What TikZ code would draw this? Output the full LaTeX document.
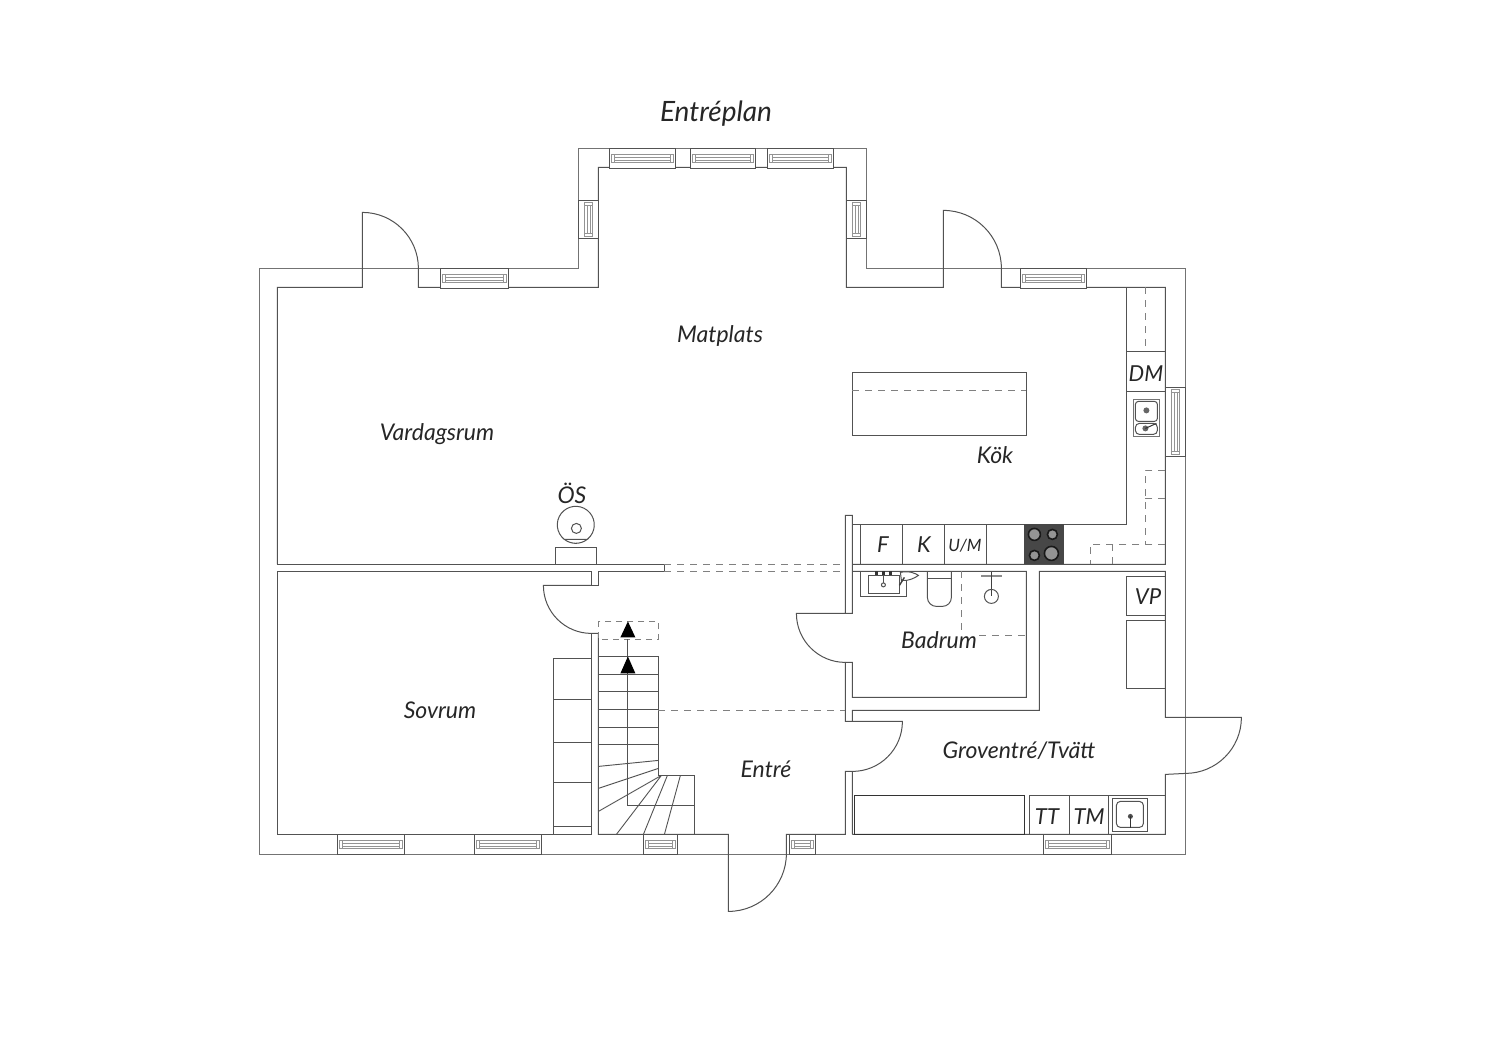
\documentclass[tikz,border=0pt]{standalone}
\usepackage{fontspec}
\setmainfont{Lato}
\newcommand{\winH}[3]{%
  \draw[wall, fill=white] (#1,#3) rectangle (#2,#3+20);
  \draw[thinl] (#1+2,#3+6) rectangle (#2-2,#3+14);
  \draw[thinl] (#1+5,#3+8.5) -- (#2-5,#3+8.5) (#1+5,#3+11.5) -- (#2-5,#3+11.5)
    (#1+5,#3+6) -- (#1+5,#3+14) (#2-5,#3+6) -- (#2-5,#3+14);}
\newcommand{\winV}[3]{%
  \draw[wall, fill=white] (#1,#2) rectangle (#1+20,#3);
  \draw[thinl] (#1+6,#2+2) rectangle (#1+14,#3-2);
  \draw[thinl] (#1+8.5,#2+5) -- (#1+8.5,#3-5) (#1+11.5,#2+5) -- (#1+11.5,#3-5)
    (#1+6,#2+5) -- (#1+14,#2+5) (#1+6,#3-5) -- (#1+14,#3-5);}
\begin{document}
\begin{tikzpicture}[x=1pt, y=-1pt,
  wall/.style={draw=black!68, line width=1pt},
  outerwall/.style={draw=black!55, line width=1pt},
  thinl/.style={draw=black!42, line width=.6pt},
  dashl/.style={draw=black!50, line width=1pt, dash pattern=on 7pt off 6pt},
  room/.style={font=\itshape\fontsize{23}{23}\selectfont, text=black!85, inner sep=0pt},
  unit/.style={font=\itshape\fontsize{22}{22}\selectfont, text=black!85, inner sep=0pt}
]
\useasboundingbox (0,0) rectangle (1500,1060);
\begin{scope}[shift={(-0.6,-0.6)}]
% outer wall
\draw[outerwall] (260,269) -- (579,269) -- (579,149) -- (867,149) -- (867,269)
  -- (1186,269) -- (1186,855) -- (260,855) -- cycle;
% inner wall, upper rooms
\draw[wall] (278,565) -- (278,288) -- (363,288) -- (363,213)
  arc[start angle=90, end angle=0, radius=56pt] -- (419,288) -- (599,288)
  -- (599,168) -- (847,168) -- (847,288) -- (944,288) -- (944,211)
  arc[start angle=90, end angle=0, radius=58pt] -- (1002,288) -- (1166,288)
  -- (1166,565) -- (853,565);
\draw[wall] (278,565) -- (665,565) -- (665,572) -- (599,572) -- (599,586) -- (592,586)
  -- (592,572) -- (278,572) -- (278,835) -- (592,835) -- (592,634);
\draw[wall] (592,586) -- (544,586) arc[start angle=180, end angle=270, radius=48pt] -- (599,634) -- (599,835)
  -- (729,835) -- (729,912) arc[start angle=270, end angle=360, radius=58pt] -- (787,835) -- (846,835)
  -- (846,772) -- (853,772) arc[start angle=270, end angle=360, radius=50pt] -- (846,722) -- (846,663)
  -- (853,663) -- (853,698) -- (1027,698) -- (1027,572) -- (853,572);
\draw[wall] (846,663) arc[start angle=270, end angle=180, radius=49pt] -- (853,614) -- (853,516) -- (846,516) -- (846,614);
\draw[wall] (853,835) -- (853,772) (853,722) -- (853,711) -- (1040,711) -- (1040,572) -- (1166,572) -- (1166,718)
  -- (1242,718) arc[start angle=0, end angle=-90, radius=56pt] -- (1166,775) -- (1166,835) -- (853,835);
% windows
\foreach \xa/\xb in {610/676, 691/756, 768/834} {\winH{\xa}{\xb}{149}}
\foreach \xa/\xb in {441/509, 1021/1087} {\winH{\xa}{\xb}{269}}
\foreach \xa/\xb in {338/405, 475/542, 644/678, 790/816, 1044/1112} {\winH{\xa}{\xb}{835}}
\foreach \xa in {579, 847} {\winV{\xa}{201}{239}}
\winV{1166}{388}{457}
% kitchen
\draw[wall] (853,525) -- (1127,525) -- (1127,288);
\foreach \xa in {861, 903, 945, 987} {\draw[wall] (\xa,525) -- (\xa,565);}
\draw[wall] (1127,352) -- (1166,352) (1127,392) -- (1166,392);
\draw[dashl] (1146,288) -- (1146,352);
\draw[wall] (853,373) rectangle (1027,436);
\draw[dashl] (853,391) -- (1027,391);
\draw[dashl] (1166,471) -- (1146,471) -- (1146,545) (1166,499) -- (1146,499)
  (1166,545) -- (1091,545) -- (1091,565) (1113,545) -- (1113,565);
\draw[draw=black!55, fill=white, line width=1.8pt] (1134,400) rectangle (1160,437);
\draw[wall, rounded corners=3pt] (1136,402) rectangle (1158,422);
\draw[wall, rounded corners=4pt] (1136,424) rectangle (1158,435);
\fill[black!60] (1147,411) circle (3pt) (1146,429) circle (3pt);
\draw[black!80, line width=1pt] (1146,429) -- (1157,424);
\fill[black!72] (1025,525) rectangle (1065,565);
\foreach \xa/\ya/\ra in {1035/535/6, 1053/535/5, 1035/556/5, 1052/554/7} {
  \draw[draw=black!90, fill=black!42, line width=1.6pt] (\xa,\ya) circle (\ra pt);}
% fireplace
\draw[wall] (565,540) arc[start angle=-128, end angle=128+180, radius=18.5pt] -- cycle;
\draw[wall] (577,529) circle (5pt);
\draw[wall] (556,565) rectangle (597,548);
% stairs
\draw[wall] (554,835) rectangle (592,659);
\foreach \ya in {700, 743, 783, 827} {\draw[wall] (554,\ya) -- (592,\ya);}
\draw[dashl, dash pattern=on 6pt off 5pt] (599,622) rectangle (659,640);
\foreach \ya in {657, 675, 692, 710, 728, 745} {\draw[wall] (599,\ya) -- (659,\ya);}
\draw[wall] (659,657) -- (659,776) -- (695,776) -- (695,835);
\draw[wall] (628.5,640) -- (628.5,806) -- (695,806);
\draw[wall, line width=.9pt] (599,767) -- (659,761) (599,789) -- (659,769) (599,812) -- (662,776)
  (617,835) -- (662,776) (644,835) -- (668,776) (665,835) -- (681,776);
\fill[black] (628.5,622) -- (636,638) -- (621,638) -- cycle;
\fill[black] (628.5,657) -- (636,674) -- (621,674) -- cycle;
% open plan lines
\draw[dashl] (665,565) -- (846,565) (665,572) -- (846,572) (659,711) -- (846,711);
% bathroom
\draw[wall] (861,572) -- (861,597) -- (907,597) -- (907,572);
\draw[wall] (869,576) rectangle (900,594);
\foreach \xa in {877, 884, 891} {\fill[black!80] (\xa-1.5,572) rectangle (\xa+1.5,576);}
\draw[wall] (884,576) -- (884,584);
\draw[wall] (884,585.5) circle (2pt);
\draw[wall, fill=white] (901,573) .. controls (910,571) and (916,574) .. (919,576) .. controls (915,579) and (908,582) .. (902,581) -- cycle;
\draw[black!75, line width=1.4pt] (900,586) -- (905,578);
\draw[wall, rounded corners=9pt] (928,572) -- (928,607) -- (952,607) -- (952,572);
\draw[wall] (928,579) -- (952,579);
\draw[dashl] (962,572) -- (962,631) (980,636) -- (1027,636);
\draw[black!45, line width=2pt] (982,577) -- (1003,577);
\draw[black!75, line width=1.2pt] (992,573) -- (992,597);
\draw[wall] (992,597) circle (7pt);
% laundry
\draw[wall] (1127,616) -- (1127,577) -- (1166,577) (1127,616) -- (1166,616);
\draw[wall] (1127,689) -- (1127,621) -- (1166,621) (1127,689) -- (1166,689);
\draw[black!80, line width=1.1pt] (855,796) rectangle (1025,835);
\draw[wall] (1030,835) -- (1030,796) -- (1166,796);
\draw[wall] (1070,796) -- (1070,835) (1109,796) -- (1109,835);
\draw[draw=black!68, line width=1.6pt] (1113,799) rectangle (1148,832);
\draw[wall, rounded corners=4pt] (1117,802) rectangle (1144,828);
\fill[black!70] (1131,817) circle (2.5pt);
\draw[black!80, line width=1.2pt] (1131,817) -- (1131,829);
\end{scope}
% labels
\node[font=\itshape\fontsize{28}{28}\selectfont, text=black!85, inner sep=0pt] (title) at (716,114) {Entréplan};
\node[room] (matplats) at (720,336) {Matplats};
\node[room] (vardagsrum) at (437,434) {Vardagsrum};
\node[room] (kok) at (995,455) {Kök};
\node[room] (os) at (572,493) {ÖS};
\node[room] (sovrum) at (440,710) {Sovrum};
\node[room] (badrum) at (939,640) {Badrum};
\node[room] (entre) at (766,769) {Entré};
\node[room] (groventre) at (1019,751) {Groventré/Tvätt};
\node[unit] (fridge) at (883,545) {F};
\node[unit] (freezer) at (924,545) {K};
\node[unit, font=\itshape\fontsize{17}{17}\selectfont] (um) at (965,546) {U/M};
\node[unit] (dm) at (1146,374) {DM};
\node[unit] (vp) at (1148,597) {VP};
\node[unit] (tt) at (1047,817) {TT};
\node[unit] (tm) at (1089,817) {TM};
\end{tikzpicture}
\end{document}
